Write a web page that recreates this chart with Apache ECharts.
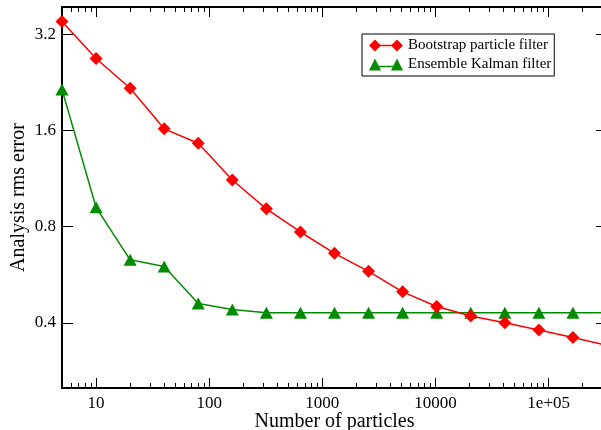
<!DOCTYPE html>
<html>
<head>
<meta charset="utf-8">
<script src="https://cdn.jsdelivr.net/npm/echarts@6/dist/echarts.min.js"></script>
<style>
  html, body { margin: 0; padding: 0; background: #fff; }
  #chart { width: 601px; height: 430px; }
</style>
</head>
<body>
<div id="chart"></div>
<script>
// number of particles (doubling from 5)
const particles = [5, 10, 20, 40, 80, 160, 320, 640, 1280, 2560, 5120, 10240, 20480, 40960, 81920, 163840, 327680]
const bootstrapError = [3.51, 2.69, 2.17, 1.62, 1.46, 1.12, 0.91, 0.77, 0.66, 0.58, 0.50, 0.45, 0.42, 0.40, 0.38, 0.36, 0.34]
const enkfError = [2.15, 0.92, 0.63, 0.60, 0.46, 0.44, 0.43, 0.43, 0.43, 0.43, 0.43, 0.43, 0.43, 0.43, 0.43, 0.43, 0.43]

const xMajorTicks = [10, 100, 1000, 10000, 100000]
const xMinorTicks = [6, 7, 8, 9, 20, 30, 40, 50, 60, 70, 80, 90, 200, 300, 400, 500, 600, 700, 800, 900,
  2000, 3000, 4000, 5000, 6000, 7000, 8000, 9000, 20000, 30000, 40000, 50000, 60000, 70000, 80000, 90000,
  200000, 300000]
const yTicks = [0.4, 0.8, 1.6, 3.2]

const font = "Liberation Serif"
const black = "#000"

function xLabel(v) {
  if (v >= 100000) return "1e+05"
  return String(Math.round(v))
}

function xAxisCfg(pos, ticks, len, withLine, withLabels) {
  return {
    type: "log",
    position: pos,
    min: 5,
    max: 327680,
    axisLine: { show: withLine, onZero: false, lineStyle: { color: black, width: 2 } },
    axisTick: { show: true, inside: true, length: len, customValues: ticks, lineStyle: { color: black, width: 1 } },
    axisLabel: withLabels
      ? { show: true, customValues: ticks, margin: 7, color: black, fontFamily: font, fontSize: 17, formatter: xLabel }
      : { show: false },
    splitLine: { show: false },
    minorTick: { show: false },
  }
}

const chart = echarts.init(document.getElementById("chart"), null, { renderer: "canvas" })

const option = {
  animation: false,
  backgroundColor: "#fff",
  textStyle: { fontFamily: font },
  grid: { left: 62, top: 7, right: -6, bottom: 42, containLabel: false, outerBoundsMode: "none" },
  legend: {
    orient: "vertical",
    left: 362,
    top: 34,
    padding: [4, 3, 4, 7],
    itemGap: 4,
    itemWidth: 34,
    itemHeight: 12,
    borderColor: black,
    borderWidth: 1,
    borderRadius: 0,
    backgroundColor: "#fff",
    textStyle: { fontFamily: font, fontSize: 15, color: black, padding: [0, 0, 0, 0] },
    data: [
      { name: "Bootstrap particle filter", icon: "path://M0,6L6,0L12,6L6,12Z M6,5.3L28,5.3L28,6.7L6,6.7Z M22,6L28,0L34,6L28,12Z" },
      { name: "Ensemble Kalman filter", icon: "path://M0,12L6,0L12,12Z M6,7.3L28,7.3L28,8.7L6,8.7Z M22,12L28,0L34,12Z" },
    ],
  },
  xAxis: [
    Object.assign(xAxisCfg("bottom", xMajorTicks, 10, true, true), {
      name: "Number of particles",
      nameLocation: "middle",
      nameGap: 24,
      nameMoveOverlap: false,
      nameTextStyle: { color: black, fontFamily: font, fontSize: 20 },
    }),
    xAxisCfg("bottom", xMinorTicks, 5, false, false),
    xAxisCfg("top", xMajorTicks, 10, true, false),
    xAxisCfg("top", xMinorTicks, 5, false, false),
  ],
  yAxis: [
    {
      type: "log",
      logBase: 2,
      position: "left",
      min: 0.25,
      max: 3.9,
      name: "Analysis rms error",
      nameLocation: "middle",
      nameGap: 33,
      nameMoveOverlap: false,
      nameTextStyle: { color: black, fontFamily: font, fontSize: 20 },
      axisLine: { show: true, onZero: false, lineStyle: { color: black, width: 2 } },
      axisTick: { show: true, inside: true, length: 11, customValues: yTicks, lineStyle: { color: black, width: 1 } },
      axisLabel: {
        show: true, customValues: yTicks, margin: 6, color: black, fontFamily: font, fontSize: 17,
        formatter: (v) => v.toFixed(1),
      },
      splitLine: { show: false },
    },
    {
      type: "log",
      logBase: 2,
      position: "right",
      min: 0.25,
      max: 3.9,
      axisLine: { show: true, onZero: false, lineStyle: { color: black, width: 2 } },
      axisTick: { show: true, inside: true, length: 11, customValues: yTicks, lineStyle: { color: black, width: 1 } },
      axisLabel: { show: false },
      splitLine: { show: false },
    },
  ],
  series: [
    {
      name: "Bootstrap particle filter",
      type: "line",
      xAxisIndex: 0,
      yAxisIndex: 0,
      data: particles.map((p, i) => [p, bootstrapError[i]]),
      symbol: "diamond",
      symbolSize: 13,
      showAllSymbol: true,
      lineStyle: { color: "#ff0000", width: 1.5 },
      itemStyle: { color: "#ff0000" },
      z: 3,
    },
    {
      name: "Ensemble Kalman filter",
      type: "line",
      xAxisIndex: 0,
      yAxisIndex: 0,
      data: particles.map((p, i) => [p, enkfError[i]]),
      symbol: "triangle",
      symbolSize: [13, 12],
      showAllSymbol: true,
      lineStyle: { color: "#008b00", width: 1.5 },
      itemStyle: { color: "#008b00" },
      z: 2,
    },
  ],
}

chart.setOption(option)
</script>
</body>
</html>
